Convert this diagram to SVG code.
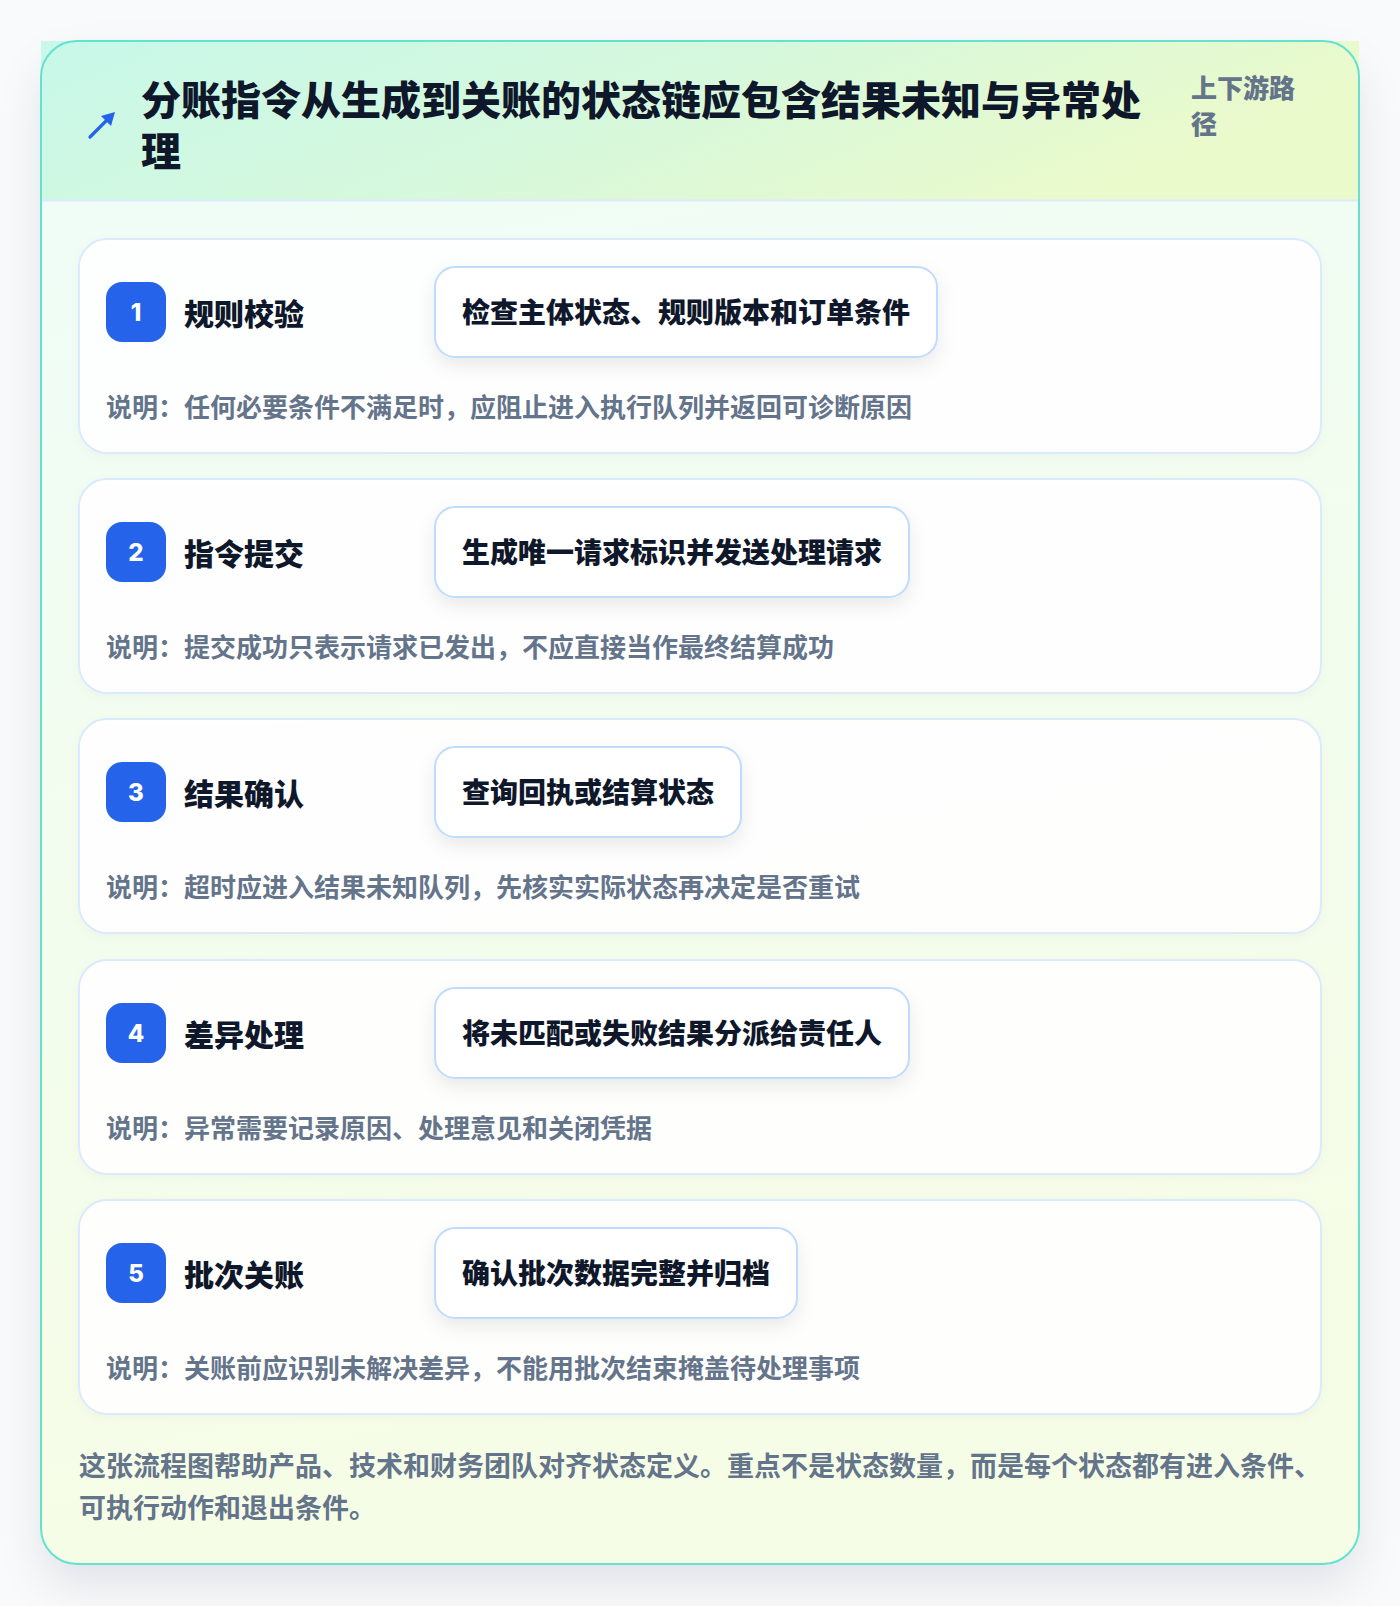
<svg xmlns="http://www.w3.org/2000/svg" width="1400" height="1606" viewBox="0 0 1400 1606">
<defs>
<linearGradient id="hdrGrad" x1="0" y1="0" x2="1" y2="0.3">
<stop offset="0" stop-color="#c8f8ea"/>
<stop offset="0.5" stop-color="#d5f8dd"/>
<stop offset="1" stop-color="#ebfacb"/>
</linearGradient>
<linearGradient id="bodyGrad" x1="0" y1="0" x2="0.2" y2="1">
<stop offset="0" stop-color="#effdf8"/>
<stop offset="1" stop-color="#f6fde6"/>
</linearGradient>
<filter id="cardShadow" x="-10%" y="-10%" width="120%" height="125%">
<feDropShadow dx="0" dy="22" stdDeviation="22" flood-color="#0f172a" flood-opacity="0.09"/>
</filter>
<filter id="boxShadow" x="-10%" y="-20%" width="120%" height="160%">
<feDropShadow dx="0" dy="8" stdDeviation="9" flood-color="#0f172a" flood-opacity="0.08"/>
</filter>
<filter id="stepShadow" x="-5%" y="-10%" width="110%" height="125%">
<feDropShadow dx="0" dy="3" stdDeviation="4" flood-color="#0f172a" flood-opacity="0.03"/>
</filter>
<style>
text { font-family: "Noto Sans CJK SC", "Noto Sans", sans-serif; font-weight: 700; }
.title { font-size: 40px; fill: #0f172a; font-weight: 900; }
.meta { font-size: 26px; fill: #64748b; font-weight: 900; }
.step { fill: #ffffff; fill-opacity: 0.9; stroke: #dbeafe; stroke-width: 2; }
.badge { fill: #2563eb; }
.num { font-family: Inter, "Noto Sans", sans-serif; font-size: 24px; font-weight: 800; fill: #ffffff; text-anchor: middle; }
.stitle { font-size: 30px; fill: #0f172a; font-weight: 900; }
.abox { fill: #ffffff; stroke: #bfdbfe; stroke-width: 2; }
.atext { font-size: 28px; fill: #0f172a; font-weight: 900; }
.desc { font-size: 26px; fill: #64748b; }
.foot { font-size: 27px; fill: #64748b; }
</style>
</defs>

<rect x="0" y="0" width="1400" height="1606" fill="#f9fafb"/>

<g id="frame">
<rect x="41" y="41" width="1318" height="1523" rx="36" fill="url(#bodyGrad)" filter="url(#cardShadow)"/>
<rect x="41" y="41" width="1318" height="160" fill="url(#hdrGrad)"/>
<line x1="42" y1="200.5" x2="1358" y2="200.5" stroke="#dbeafe" stroke-width="2"/>
<rect x="41" y="41" width="1318" height="1523" rx="36" fill="none" stroke="#62e2cf" stroke-width="2"/>
</g>

<g id="header">
<line x1="90" y1="137" x2="110" y2="117" stroke="#2563eb" stroke-width="3.2" stroke-linecap="round"/>
<polygon points="115,112 101,116 111,126" fill="#2563eb"/>
<text class="title" x="141" y="115">分账指令从生成到关账的状态链应包含结果未知与异常处</text>
<text class="title" x="141" y="166">理</text>
<text class="meta" x="1191" y="98">上下游路</text>
<text class="meta" x="1191" y="134">径</text>
</g>

<g id="connectors"></g>

<g id="step-1">
<rect class="step" x="79" y="239" width="1242" height="214" rx="28" filter="url(#stepShadow)"/>
<rect class="badge" x="106" y="282" width="60" height="60" rx="16"/>
<text class="num" x="136" y="321">1</text>
<text class="stitle" x="184" y="325">规则校验</text>
<rect class="abox" x="435" y="267" width="502" height="90" rx="20" filter="url(#boxShadow)"/>
<text class="atext" x="462" y="323">检查主体状态、规则版本和订单条件</text>
<text class="desc" x="106" y="417">说明：任何必要条件不满足时，应阻止进入执行队列并返回可诊断原因</text>
</g>

<g id="step-2">
<rect class="step" x="79" y="479" width="1242" height="214" rx="28" filter="url(#stepShadow)"/>
<rect class="badge" x="106" y="522" width="60" height="60" rx="16"/>
<text class="num" x="136" y="561">2</text>
<text class="stitle" x="184" y="565">指令提交</text>
<rect class="abox" x="435" y="507" width="474" height="90" rx="20" filter="url(#boxShadow)"/>
<text class="atext" x="462" y="563">生成唯一请求标识并发送处理请求</text>
<text class="desc" x="106" y="657">说明：提交成功只表示请求已发出，不应直接当作最终结算成功</text>
</g>

<g id="step-3">
<rect class="step" x="79" y="719" width="1242" height="214" rx="28" filter="url(#stepShadow)"/>
<rect class="badge" x="106" y="762" width="60" height="60" rx="16"/>
<text class="num" x="136" y="801">3</text>
<text class="stitle" x="184" y="805">结果确认</text>
<rect class="abox" x="435" y="747" width="306" height="90" rx="20" filter="url(#boxShadow)"/>
<text class="atext" x="462" y="803">查询回执或结算状态</text>
<text class="desc" x="106" y="897">说明：超时应进入结果未知队列，先核实实际状态再决定是否重试</text>
</g>

<g id="step-4">
<rect class="step" x="79" y="960" width="1242" height="214" rx="28" filter="url(#stepShadow)"/>
<rect class="badge" x="106" y="1003" width="60" height="60" rx="16"/>
<text class="num" x="136" y="1042">4</text>
<text class="stitle" x="184" y="1046">差异处理</text>
<rect class="abox" x="435" y="988" width="474" height="90" rx="20" filter="url(#boxShadow)"/>
<text class="atext" x="462" y="1044">将未匹配或失败结果分派给责任人</text>
<text class="desc" x="106" y="1138">说明：异常需要记录原因、处理意见和关闭凭据</text>
</g>

<g id="step-5">
<rect class="step" x="79" y="1200" width="1242" height="214" rx="28" filter="url(#stepShadow)"/>
<rect class="badge" x="106" y="1243" width="60" height="60" rx="16"/>
<text class="num" x="136" y="1282">5</text>
<text class="stitle" x="184" y="1286">批次关账</text>
<rect class="abox" x="435" y="1228" width="362" height="90" rx="20" filter="url(#boxShadow)"/>
<text class="atext" x="462" y="1284">确认批次数据完整并归档</text>
<text class="desc" x="106" y="1378">说明：关账前应识别未解决差异，不能用批次结束掩盖待处理事项</text>
</g>

<g id="footer">
<text class="foot" x="79" y="1476">这张流程图帮助产品、技术和财务团队对齐状态定义。重点不是状态数量，而是每个状态都有进入条件、</text>
<text class="foot" x="79" y="1518">可执行动作和退出条件。</text>
</g>
</svg>
